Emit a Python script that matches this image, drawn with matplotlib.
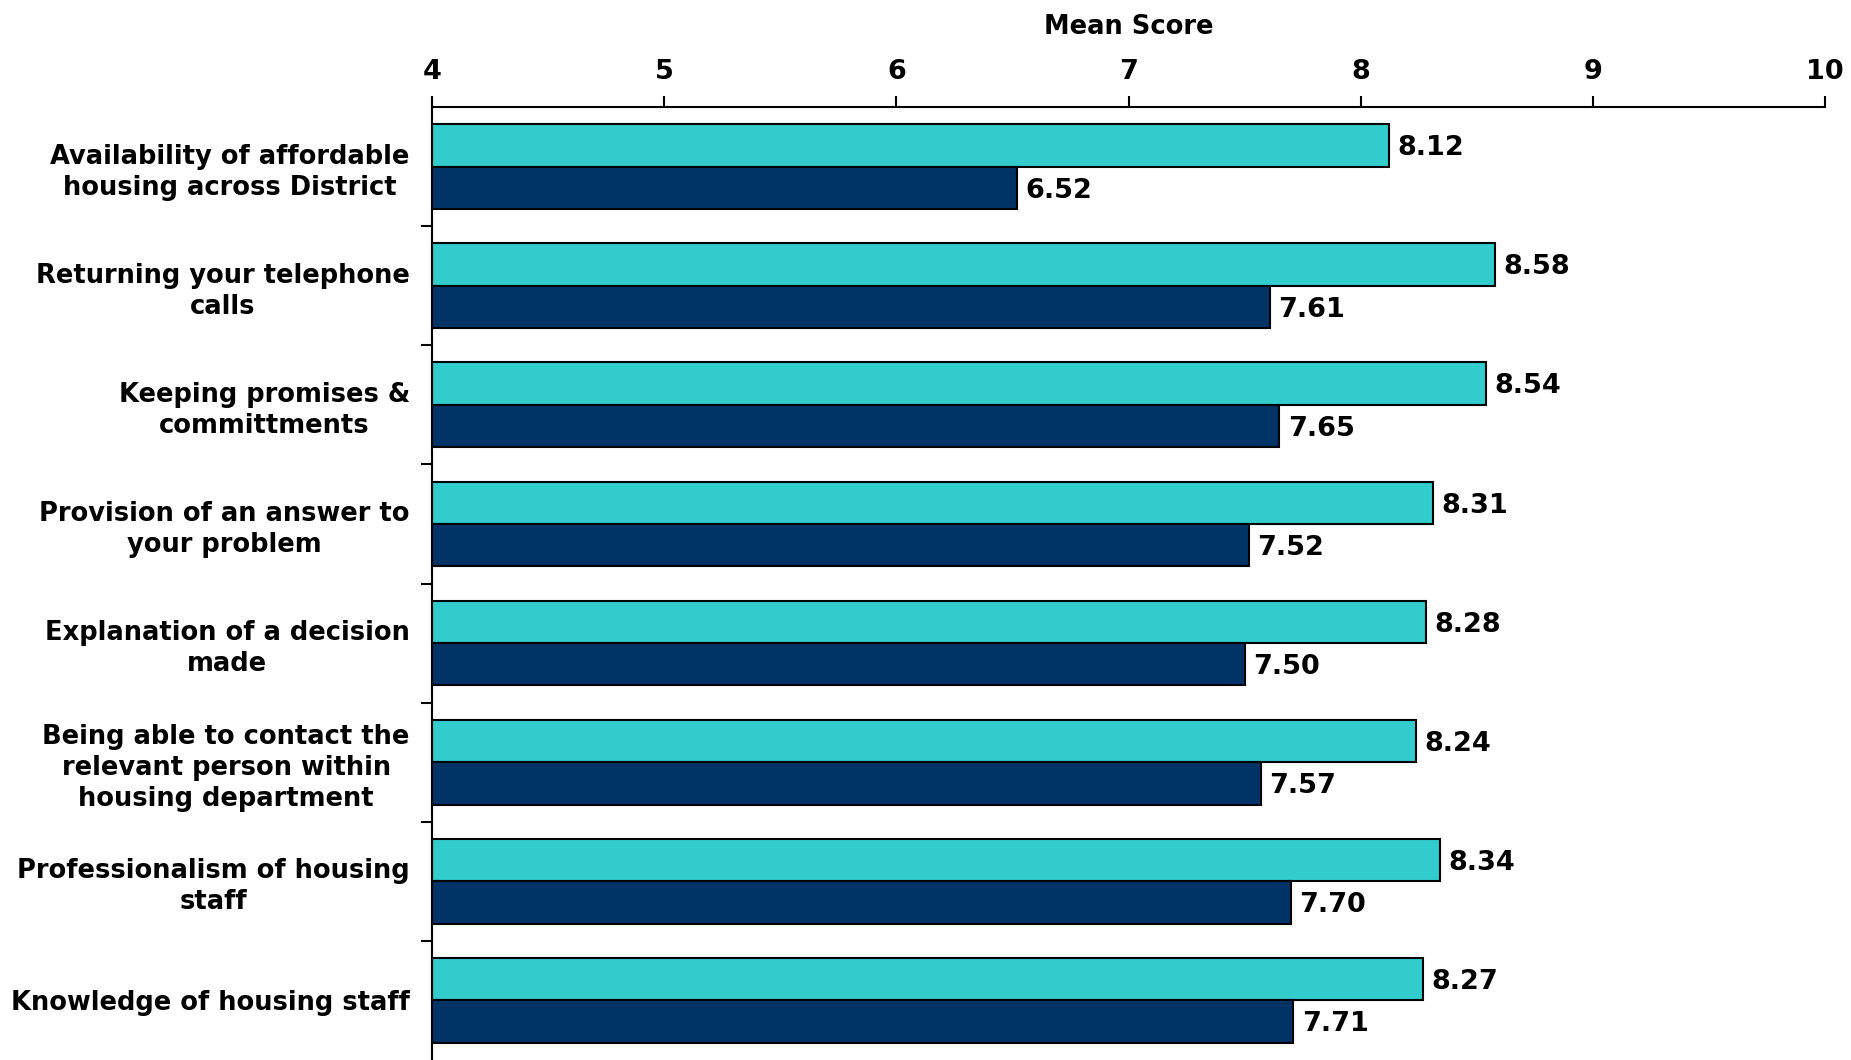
import matplotlib.pyplot as plt
import numpy as np

categories = [
    "Availability of affordable\nhousing across District",
    "Returning your telephone\ncalls",
    "Keeping promises &\ncommittments",
    "Provision of an answer to\nyour problem",
    "Explanation of a decision\nmade",
    "Being able to contact the\nrelevant person within\nhousing department",
    "Professionalism of housing\nstaff",
    "Knowledge of housing staff",
]
series_a = [8.12, 8.58, 8.54, 8.31, 8.28, 8.24, 8.34, 8.27]
series_b = [6.52, 7.61, 7.65, 7.52, 7.50, 7.57, 7.70, 7.71]
x_ticks = [4, 5, 6, 7, 8, 9, 10]

plt.rcParams['font.family'] = ['DejaVu Sans']
plt.rcParams['font.weight'] = 'bold'

fig = plt.figure(figsize=(18.51, 10.60), dpi=100)
ax = fig.add_axes([0.2334, 0.0, 0.986 - 0.2334, 0.899])

y = np.arange(len(categories))
h = 0.356
ax.barh(y - h / 2, np.array(series_a) - 4, left=4, height=h, color='#33CCCC',
        edgecolor='black', linewidth=1.5)
ax.barh(y + h / 2, np.array(series_b) - 4, left=4, height=h, color='#003366',
        edgecolor='black', linewidth=1.5)

for i in range(len(categories)):
    ax.annotate(f"{series_a[i]:.2f}", (series_a[i], y[i] - h / 2), xytext=(6, -2),
                textcoords='offset points', va='center', ha='left',
                fontsize=19.5, fontweight='bold')
    ax.annotate(f"{series_b[i]:.2f}", (series_b[i], y[i] + h / 2), xytext=(6, -2),
                textcoords='offset points', va='center', ha='left',
                fontsize=19.5, fontweight='bold')

ax.set_xlim(4, 10)
ax.set_ylim(len(categories) - 0.5, -0.5)
ax.xaxis.tick_top()
ax.xaxis.set_label_position('top')
ax.set_xticks(x_ticks)
ax.set_xticklabels([str(t) for t in x_ticks], fontsize=19.5, fontweight='bold')
ax.set_xlabel("Mean Score", fontsize=18.5, fontweight='bold', labelpad=18)
ax.tick_params(axis='x', length=8, width=1.5, pad=8)

ax.set_yticks(y)
ax.set_yticklabels(categories, fontsize=18.5, fontweight='bold',
                   ha='right', multialignment='center', linespacing=1.25)
ax.tick_params(axis='y', which='major', length=0, pad=16)
ax.set_yticks(np.arange(0.5, len(categories) - 0.5, 1), minor=True)
ax.tick_params(axis='y', which='minor', length=8, width=1.5)

for side in ['right', 'bottom']:
    ax.spines[side].set_visible(False)
ax.spines['top'].set_linewidth(1.5)
ax.spines['left'].set_linewidth(1.5)

fig.savefig('out.png', dpi=100)
